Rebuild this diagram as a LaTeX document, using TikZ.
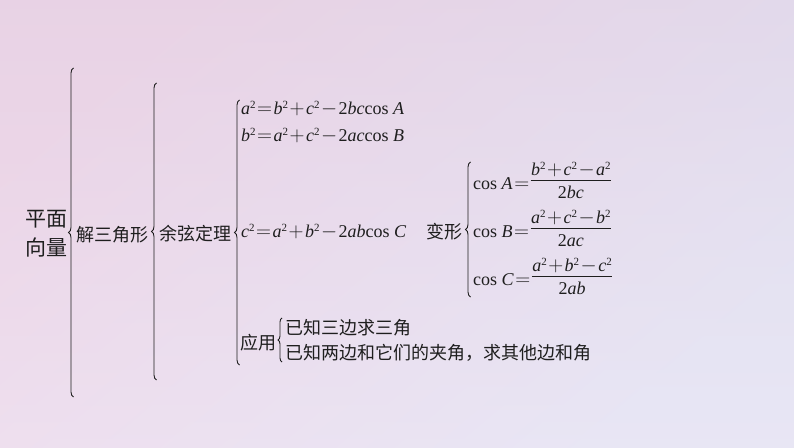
\documentclass[tikz,border=0pt]{standalone}
\usepackage[no-math]{fontspec}
\setmainfont{Liberation Serif}
\newfontfamily\cjk{Noto Sans CJK SC}
\usetikzlibrary{decorations.pathreplacing}
\definecolor{ink}{HTML}{1E1E1E}
\definecolor{bgA}{HTML}{EFD2E6}
\definecolor{bgB}{HTML}{E1E2F4}
\definecolor{bgTop}{HTML}{DCD4E4}
\definecolor{bgBot}{HTML}{F7EEF6}
\newbox\frnum \newbox\frden \newdimen\frw
\newcommand\vi[1]{\textit{#1}}
\newcommand\sq{\raisebox{6pt}{\fontsize{11}{11}\selectfont 2}}
\newcommand\opx[1]{\kern1.5pt{\fontsize{20.74}{20.74}\selectfont$#1$}\kern1.5pt}
\newcommand\Eq{\opx{=}}
\newcommand\Pl{\opx{+}}
\newcommand\Mi{\opx{-}}
\newcommand\fr[2]{%
  \setbox\frnum=\hbox{\kern0.5pt#1\kern0.5pt}%
  \setbox\frden=\hbox{#2}%
  \frw=\wd\frnum \ifdim\wd\frden>\frw \frw=\wd\frden\fi
  \hbox{\rlap{\raisebox{14pt}{\hbox to\frw{\hss\box\frnum\hss}}}%
  \rlap{\raisebox{8.7pt}{\rule{\frw}{1.1pt}}}%
  \raisebox{-9pt}{\hbox to\frw{\hss\box\frden\hss}}}}
\tikzset{
  cn/.style={font=\cjk\fontsize{18}{22}\selectfont, text=ink, inner sep=0pt},
  eqn/.style={font=\fontsize{18}{22}\selectfont, text=ink, inner sep=0pt, anchor=base west},
  brc/.style={draw=ink, line width=0.9pt, decorate, decoration={brace, amplitude=5pt}},
}
\begin{document}
\begin{tikzpicture}[x=1pt,y=1pt]
% background
\shade[left color=bgA, right color=bgB, shading angle=40] (0,0) rectangle (794,447);
\shade[top color=bgTop, bottom color=bgBot, opacity=0.35] (0,0) rectangle (794,447);
\useasboundingbox (0,0) rectangle (794,447);

% level 1
\node[cn, font=\cjk\fontsize{21}{29}\selectfont, align=center] (pmxl) at (46,213.5) {平面\\向量};
\coordinate (b1s) at (73.5,50);
\coordinate (b1e) at (73.5,379);
\draw[brc] (b1s) -- (b1e);

% level 2
\node[cn] (jsjx) at (112.5,212) {解三角形};
\coordinate (b2s) at (156.5,67);
\coordinate (b2e) at (156.5,364);
\draw[brc] (b2s) -- (b2e);

% level 3
\node[cn] (yxdl) at (195,213) {余弦定理};
\coordinate (b3s) at (239.5,82);
\coordinate (b3e) at (239.5,347);
\draw[brc] (b3s) -- (b3e);

% equations
\node[eqn] (eqA) at (241,332) {\vi{a}\sq\Eq\vi{b}\sq\Pl\vi{c}\sq\Mi 2\vi{bc}cos \vi{A}};
\node[eqn] (eqB) at (241,305) {\vi{b}\sq\Eq\vi{a}\sq\Pl\vi{c}\sq\Mi 2\vi{ac}cos \vi{B}};
\node[eqn] (eqC) at (241,209) {\vi{c}\sq\Eq\vi{a}\sq\Pl\vi{b}\sq\Mi 2\vi{ab}cos \vi{C}};

% transformation
\node[cn] (bx) at (444.5,215) {变形};
\coordinate (b4s) at (470.5,150);
\coordinate (b4e) at (470.5,285);
\draw[brc] (b4s) -- (b4e);
\node[eqn] (cosA) at (473,257) {cos \vi{A}\Eq\fr{\vi{b}\sq\Pl\vi{c}\sq\Mi\vi{a}\sq}{2\vi{bc}}};
\node[eqn] (cosB) at (473,209) {cos \vi{B}\Eq\fr{\vi{a}\sq\Pl\vi{c}\sq\Mi\vi{b}\sq}{2\vi{ac}}};
\node[eqn] (cosC) at (473,161) {cos \vi{C}\Eq\fr{\vi{a}\sq\Pl\vi{b}\sq\Mi\vi{c}\sq}{2\vi{ab}}};

% application
\node[cn] (yy) at (258.5,104) {应用};
\coordinate (b5s) at (282,85);
\coordinate (b5e) at (282,129);
\draw[brc, decoration={brace, amplitude=4pt}] (b5s) -- (b5e);
\node[cn, anchor=west] (ap1) at (285,119) {已知三边求三角};
\node[cn, anchor=west] (ap2) at (285,94) {已知两边和它们的夹角，求其他边和角};
\end{tikzpicture}
\end{document}
